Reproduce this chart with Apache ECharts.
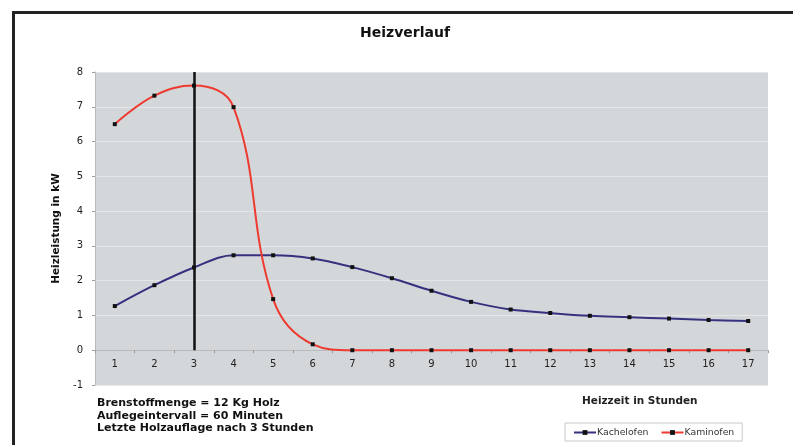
<!DOCTYPE html>
<html>
<head>
<meta charset="utf-8">
<script src="https://cdn.jsdelivr.net/npm/echarts@6/dist/echarts.min.js"></script>
<style>html,body{margin:0;padding:0;background:#fff;}#c{width:793px;height:445px;}</style>
</head>
<body>
<div id="c"></div>
<script>
const categories = ['1','2','3','4','5','6','7','8','9','10','11','12','13','14','15','16','17'];
const kachelofen = [1.27, 1.87, 2.38, 2.73, 2.73, 2.64, 2.39, 2.07, 1.71, 1.39, 1.17, 1.07, 0.99, 0.95, 0.91, 0.87, 0.84];
const kaminofen = [6.5, 7.32, 7.61, 6.99, 1.47, 0.17, 0, 0, 0, 0, 0, 0, 0, 0, 0, 0, 0];
const yTicks = [-1, 0, 1, 2, 3, 4, 5, 6, 7, 8];
const lastLoadHour = '3';
const notes = ['Brenstoffmenge = 12 Kg Holz', 'Auflegeintervall = 60 Minuten', 'Letzte Holzauflage nach 3 Stunden'];

const chart = echarts.init(document.getElementById('c'), null, {renderer: 'canvas'});
const font = '"DejaVu Sans", Verdana, sans-serif';
chart.setOption({
  animation: false,
  backgroundColor: '#fff',
  textStyle: {fontFamily: font},
  title: {
    text: 'Heizverlauf', left: 400, top: 21, textAlign: 'center',
    textStyle: {fontSize: 14, fontWeight: 'bold', color: '#111', fontFamily: font}
  },
  grid: {left: 95, right: 25, top: 72, bottom: 60, show: true, backgroundColor: '#d4d7d9', borderWidth: 0},
  legend: {
    data: ['Kachelofen', 'Kaminofen'], left: 565, top: 423, orient: 'horizontal',
    padding: [5, 8, 4, 8], itemGap: 12, itemWidth: 22, itemHeight: 6,
    borderColor: '#c8c8c8', borderWidth: 1, backgroundColor: '#fff',
    textStyle: {fontSize: 9.3, color: '#333', fontFamily: font, padding: [0, 0, 0, -4]}
  },
  xAxis: [
    {
      type: 'category', data: categories, boundaryGap: true, position: 'bottom',
      axisLine: {show: false, onZero: false},
      axisTick: {show: false},
      axisLabel: {fontSize: 10, color: '#222', margin: -26, fontFamily: font},
      splitLine: {show: false}
    },
    {
      type: 'category', data: categories, boundaryGap: true, position: 'bottom',
      axisLine: {onZero: true, lineStyle: {color: '#b8babc', width: 1}},
      axisTick: {show: true, length: 3, lineStyle: {color: '#9a9c9e'}},
      axisLabel: {show: false},
      splitLine: {show: false}
    }
  ],
  yAxis: {
    type: 'value', min: yTicks[0], max: yTicks[yTicks.length - 1], interval: 1,
    name: 'Heizleistung in kW', nameLocation: 'middle', nameGap: 33,
    nameTextStyle: {fontSize: 10.5, fontWeight: 'bold', color: '#111', fontFamily: font},
    axisLine: {show: true, lineStyle: {color: '#b8babc'}},
    axisTick: {show: true, length: 3, lineStyle: {color: '#9a9c9e'}},
    axisLabel: {fontSize: 10, color: '#222', margin: 12, fontFamily: font},
    splitLine: {show: true, lineStyle: {color: '#e4e6e8', width: 1}}
  },
  series: [
    {
      name: 'Kachelofen', type: 'line', data: kachelofen, smooth: 0.35, xAxisIndex: 0,
      symbol: 'rect', symbolSize: 4, showAllSymbol: true,
      lineStyle: {color: '#35317f', width: 2},
      itemStyle: {color: '#111'},
      z: 3
    },
    {
      name: 'Kaminofen', type: 'line', data: kaminofen, smooth: 0.4, xAxisIndex: 0,
      symbol: 'rect', symbolSize: 4, showAllSymbol: true,
      lineStyle: {color: '#ee3a30', width: 2},
      itemStyle: {color: '#111'},
      z: 3,
      markLine: {
        silent: true, symbol: 'none', label: {show: false},
        lineStyle: {color: '#111', width: 2.5, type: 'solid'},
        data: [[{coord: [lastLoadHour, yTicks[yTicks.length - 1]]}, {coord: [lastLoadHour, 0]}]],
        z: 2
      }
    }
  ],
  graphic: [
    {type: 'rect', left: 11, top: 10, shape: {width: 800, height: 500},
     style: {fill: 'none', stroke: '#222', lineWidth: 3}, silent: true, z: 100},
    {type: 'text', left: 97, top: 397,
     style: {text: notes.join('\n'), font: 'bold 11px ' + font, fill: '#111', lineHeight: 12.5}},
    {type: 'text', left: 582, top: 396,
     style: {text: 'Heizzeit in Stunden', font: 'bold 10.5px ' + font, fill: '#222'}}
  ]
});
</script>
</body>
</html>
